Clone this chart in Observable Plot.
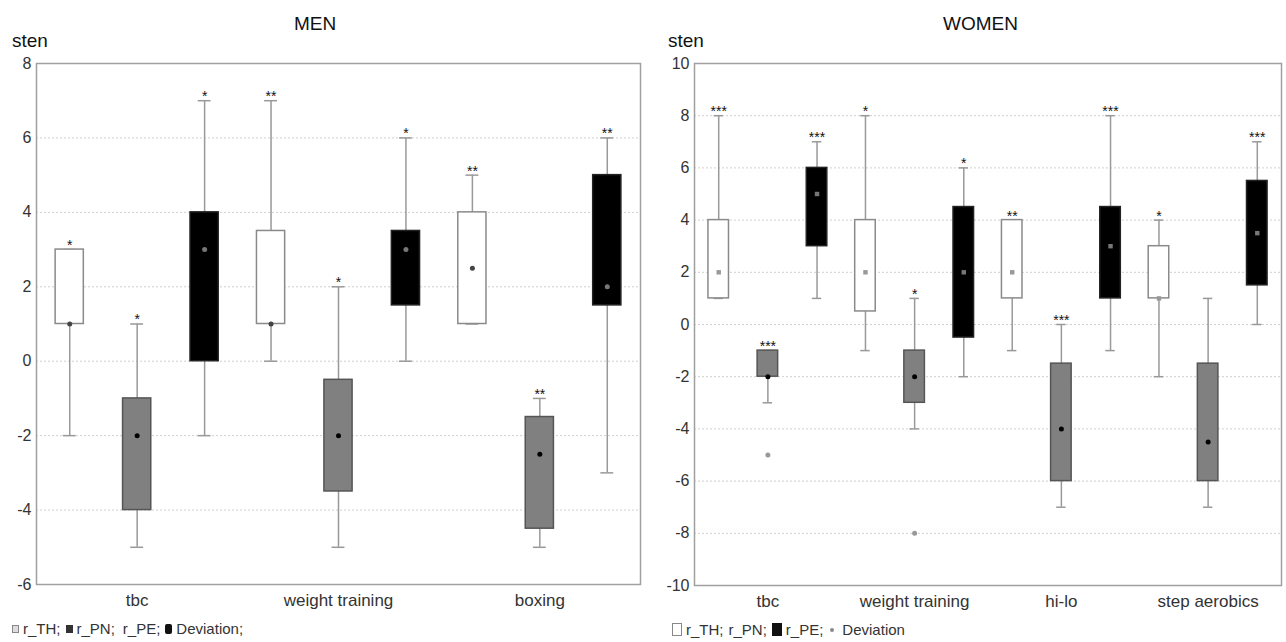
<!DOCTYPE html>
<html><head><meta charset="utf-8">
<script src="https://cdn.jsdelivr.net/npm/d3@7"></script>
<script src="https://cdn.jsdelivr.net/npm/@observablehq/plot@0.6"></script>
<style>
body{margin:0;background:#fff;font-family:"Liberation Sans",Arial,sans-serif;color:#222;}
#page{position:relative;width:1286px;height:642px;overflow:hidden;background:#fff;}
.abs{position:absolute;line-height:1;white-space:nowrap;}
.title{font-size:19px;color:#111;}
.sten{font-size:19px;color:#111;}
.legend{font-size:15px;color:#333;display:flex;align-items:center;}
.legend span{margin-right:5px;}
.ic{display:inline-block;box-sizing:border-box;}
</style></head><body><div id="page">
<div class="abs title" style="left:294px;top:14px;">MEN</div>
<div class="abs sten" style="left:12px;top:31px;">sten</div>
<div class="abs title" style="left:943px;top:14px;">WOMEN</div>
<div class="abs sten" style="left:668px;top:31px;">sten</div>
<div id="men" class="abs" style="left:0;top:55px;"></div>
<div id="women" class="abs" style="left:650px;top:55px;"></div>
<div class="abs legend" style="left:12px;top:621px;">
  <span class="ic" style="width:7px;height:8px;border:1.5px solid #888;background:#ddd;margin-right:4px"></span><span>r_TH;</span>
  <span class="ic" style="width:7px;height:8px;background:#333;margin-right:4px"></span><span>r_PN;</span>
  <span style="margin-left:3px">r_PE;</span>
  <span class="ic" style="width:7px;height:10px;background:#111;border-radius:2px;margin-right:4px"></span><span>Deviation;</span>
</div>
<div class="abs legend" style="left:672px;top:622px;">
  <span class="ic" style="width:10px;height:13px;border:1.5px solid #888;background:#fff;margin-right:4px"></span><span>r_TH;</span>
  <span>r_PN;</span>
  <span class="ic" style="width:10px;height:13px;background:#111;margin-right:4px"></span><span>r_PE;</span>
  <span class="ic" style="width:4px;height:4px;border-radius:2px;background:#888;margin:0 8px 0 2px"></span><span>Deviation</span>
</div>
</div>
<script>
const seriesNames = ["r_TH", "r_PN", "r_PE"];

// MEN — per category, series order r_TH, r_PN, r_PE
const menCategories = ["tbc", "weight training", "boxing"];
const menLow    = [-2, -5, -2,    0, -5,   0,     1, -5,   -3];
const menQ1     = [ 1, -4,  0,    1, -3.5, 1.5,   1, -4.5, 1.5];
const menMedian = [ 1, -2,  3,    1, -2,   3,     2.5, -2.5, 2];
const menQ3     = [ 3, -1,  4,    3.5, -0.5, 3.5, 4, -1.5, 5];
const menHigh   = [ 3,  1,  7,    7,  2,   6,     5, -1,   6];
const menStars  = ["*", "*", "*", "**", "*", "*", "**", "**", "**"];
const menTicks  = [-6, -4, -2, 0, 2, 4, 6, 8];

// WOMEN — per category, series order r_TH, r_PN, r_PE
const womenCategories = ["tbc", "weight training", "hi-lo", "step aerobics"];
const womenLow    = [1, -3, 1,    -1, -4, -2,     -1, -7, -1,    -2, -7, 0];
const womenQ1     = [1, -2, 3,    0.5, -3, -0.5,  1, -6, 1,      1, -6, 1.5];
const womenMedian = [2, -2, 5,    2, -2, 2,       2, -4, 3,      1, -4.5, 3.5];
const womenQ3     = [4, -1, 6,    4, -1, 4.5,     4, -1.5, 4.5,  3, -1.5, 5.5];
const womenHigh   = [8, -1, 7,    8, 1, 6,        4, 0, 8,       4, 1, 7];
const womenStars  = ["***", "***", "***", "*", "*", "*", "**", "***", "***", "*", "", "***"];
const womenOutlierCategory = ["tbc", "weight training"];
const womenOutlierSeries   = ["r_PN", "r_PN"];
const womenOutlierValue    = [-5, -8];
const womenTicks = [-10, -8, -6, -4, -2, 0, 2, 4, 6, 8, 10];

const fillColor = {r_TH: "#ffffff", r_PN: "#808080", r_PE: "#000000"};
const strokeColor = {r_TH: "#8a8a8a", r_PN: "#555555", r_PE: "#222222"};

function buildRows(cats, low, q1, med, q3, high, stars) {
  const rows = [];
  cats.forEach((c, ci) => seriesNames.forEach((s, si) => {
    const k = ci * seriesNames.length + si;
    rows.push({category: c, series: s, x: ci + 0.5 + (si - 1) * 0.335,
      low: low[k], q1: q1[k], median: med[k], q3: q3[k], high: high[k], stars: stars[k]});
  }));
  return rows;
}

function chart(cats, rows, ticks, opts) {
  const hw = 0.07, cw = 0.032;
  const centers = cats.map((c, i) => i + 0.5);
  const marks = [
    Plot.gridY(ticks, {stroke: "#cfcfcf", strokeOpacity: 1, strokeDasharray: "2,2"}),
    Plot.ruleX(rows, {x: "x", y1: "low", y2: "high", stroke: "#999", strokeWidth: 1.5}),
    Plot.ruleY(rows, {y: "low", x1: d => d.x - cw, x2: d => d.x + cw, stroke: "#999", strokeWidth: 1.5}),
    Plot.ruleY(rows, {y: "high", x1: d => d.x - cw, x2: d => d.x + cw, stroke: "#999", strokeWidth: 1.5}),
    Plot.rect(rows, {x1: d => d.x - hw, x2: d => d.x + hw, y1: "q1", y2: "q3",
      fill: d => fillColor[d.series], stroke: d => strokeColor[d.series], strokeWidth: 1.5}),
    Plot.dot(rows, {x: "x", y: "median", r: opts.dotR, symbol: d => opts.symbol[d.series],
      fill: d => opts.medianFill[d.series], stroke: "none"}),
    Plot.text(rows, {x: "x", y: "high", text: "stars", fontSize: 14, lineAnchor: "middle", dy: -4, fill: "#111"}),
    ...(opts.outliers ? [Plot.dot(opts.outliers, {x: "x", y: "value", r: 2.5, fill: "#999", stroke: "none"})] : []),
    Plot.frame({stroke: "#a0a0a0", strokeWidth: 1.5}),
    Plot.axisY(ticks, {tickSize: 0, tickPadding: 5, fontSize: 16, fill: "#333", label: null,
      tickFormat: d => String(d)}),
    Plot.axisX(centers, {tickSize: 0, tickPadding: 9, fontSize: 17, fill: "#333", label: null,
      tickFormat: d => cats[Math.floor(d)]})
  ];
  return Plot.plot({
    width: opts.width, height: 560,
    marginLeft: opts.ml, marginRight: opts.mr, marginTop: 8, marginBottom: opts.mb,
    style: {fontFamily: "Liberation Sans, Arial, sans-serif", background: "white", overflow: "visible"},
    x: {domain: [0, cats.length]},
    y: {domain: [ticks[0], ticks[ticks.length - 1]]},
    marks
  });
}

const menRows = buildRows(menCategories, menLow, menQ1, menMedian, menQ3, menHigh, menStars);
document.getElementById("men").append(chart(menCategories, menRows, menTicks, {
  width: 650, ml: 36, mr: 10, mb: 31, dotR: 2.5,
  symbol: {r_TH: "circle", r_PN: "circle", r_PE: "circle"},
  medianFill: {r_TH: "#444", r_PN: "#000", r_PE: "#777"}
}));

const womenRows = buildRows(womenCategories, womenLow, womenQ1, womenMedian, womenQ3, womenHigh, womenStars);
const womenOutliers = womenOutlierCategory.map((c, i) => {
  const ci = womenCategories.indexOf(c), si = seriesNames.indexOf(womenOutlierSeries[i]);
  return {x: ci + 0.5 + (si - 1) * 0.335, value: womenOutlierValue[i]};
});
document.getElementById("women").append(chart(womenCategories, womenRows, womenTicks, {
  width: 636, ml: 44, mr: 5, mb: 30, dotR: 2.5,
  symbol: {r_TH: "square", r_PN: "circle", r_PE: "square"},
  medianFill: {r_TH: "#999", r_PN: "#000", r_PE: "#777"},
  outliers: womenOutliers
}));
</script>
</body></html>
